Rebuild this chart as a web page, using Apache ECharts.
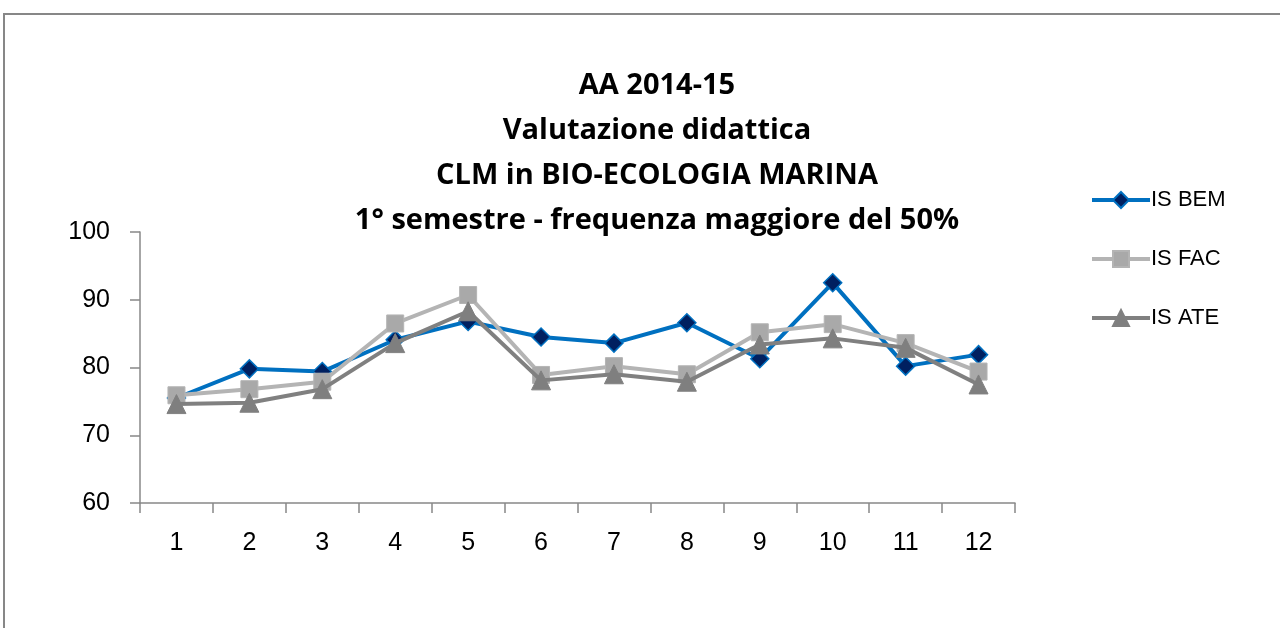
<!DOCTYPE html>
<html>
<head>
<meta charset="utf-8">
<script src="https://cdn.jsdelivr.net/npm/echarts@6/dist/echarts.min.js"></script>
<style>
  html, body { margin: 0; padding: 0; background: #fff; }
  #chart { width: 1280px; height: 628px; }
</style>
</head>
<body>
<div id="chart"></div>
<script>
// data
const categories = ['1', '2', '3', '4', '5', '6', '7', '8', '9', '10', '11', '12'];
const isBem = [75.5, 79.8, 79.4, 84.1, 86.8, 84.5, 83.6, 86.6, 81.3, 92.5, 80.2, 81.9];
const isFac = [75.9, 76.8, 77.9, 86.5, 90.7, 78.9, 80.2, 79.0, 85.2, 86.4, 83.6, 79.4];
const isAte = [74.6, 74.8, 76.8, 83.6, 88.3, 78.1, 79.0, 77.9, 83.4, 84.3, 82.9, 77.5];
const titleLines = [
  'AA 2014-15',
  'Valutazione didattica',
  'CLM in BIO-ECOLOGIA MARINA',
  '1° semestre - frequenza maggiore del 50%'
];

const chart = echarts.init(document.getElementById('chart'));
const font = 'Liberation Sans, Arial, sans-serif';
const titleFont = 'Open Sans, Liberation Sans, sans-serif';

const option = {
  animation: false,
  backgroundColor: '#fff',
  textStyle: { fontFamily: font },
  title: {
    text: titleLines.join('\n'),
    left: 652,
    top: 58,
    textAlign: 'center',
    textStyle: {
      fontFamily: titleFont,
      fontSize: 29,
      fontWeight: 'bold',
      color: '#000',
      lineHeight: 45
    }
  },
  graphic: [
    {
      type: 'rect',
      shape: { x: 4, y: 14, width: 1300, height: 700 },
      style: { fill: 'none', stroke: '#878787', lineWidth: 2 },
      silent: true
    }
  ],
  legend: {
    orient: 'vertical',
    left: 1085,
    top: 184,
    itemWidth: 58,
    itemHeight: 20,
    itemGap: 37,
    textStyle: { fontFamily: font, fontSize: 22, color: '#000', padding: [0, 0, 0, -4] },
    data: [
      { name: 'IS BEM', lineStyle: { width: 4 } },
      { name: 'IS FAC', lineStyle: { width: 4 } },
      { name: 'IS ATE', lineStyle: { width: 4 } }
    ]
  },
  grid: { left: 140, top: 232, right: 265, bottom: 125 },
  xAxis: {
    type: 'category',
    data: categories,
    boundaryGap: true,
    axisLine: { lineStyle: { color: '#888', width: 1.5 } },
    axisTick: { show: true, length: 10, interval: 0, lineStyle: { color: '#888', width: 1.5 } },
    axisLabel: { fontFamily: font, fontSize: 25, color: '#000', margin: 28 }
  },
  yAxis: {
    type: 'value',
    min: 60,
    max: 100,
    interval: 10,
    splitLine: { show: false },
    axisLine: { show: true, lineStyle: { color: '#888', width: 1.5 } },
    axisTick: { show: true, length: 10, lineStyle: { color: '#888', width: 1.5 } },
    axisLabel: { fontFamily: font, fontSize: 25, color: '#000', margin: 30 }
  },
  series: [
    {
      name: 'IS BEM',
      type: 'line',
      data: isBem,
      z: 2,
      symbol: 'diamond',
      symbolSize: 18,
      lineStyle: { color: '#0070C0', width: 4 },
      itemStyle: { color: '#002060', borderColor: '#0070C0', borderWidth: 1.5 }
    },
    {
      name: 'IS FAC',
      type: 'line',
      data: isFac,
      z: 3,
      symbol: 'rect',
      symbolSize: 17,
      lineStyle: { color: '#B4B4B4', width: 4 },
      itemStyle: { color: '#A9A9A9', borderColor: '#B4B4B4', borderWidth: 1 }
    },
    {
      name: 'IS ATE',
      type: 'line',
      data: isAte,
      z: 4,
      symbol: 'triangle',
      symbolSize: 19,
      lineStyle: { color: '#808080', width: 4 },
      itemStyle: { color: '#7F7F7F', borderColor: '#808080', borderWidth: 1 }
    }
  ]
};

chart.setOption(option);
</script>
</body>
</html>
